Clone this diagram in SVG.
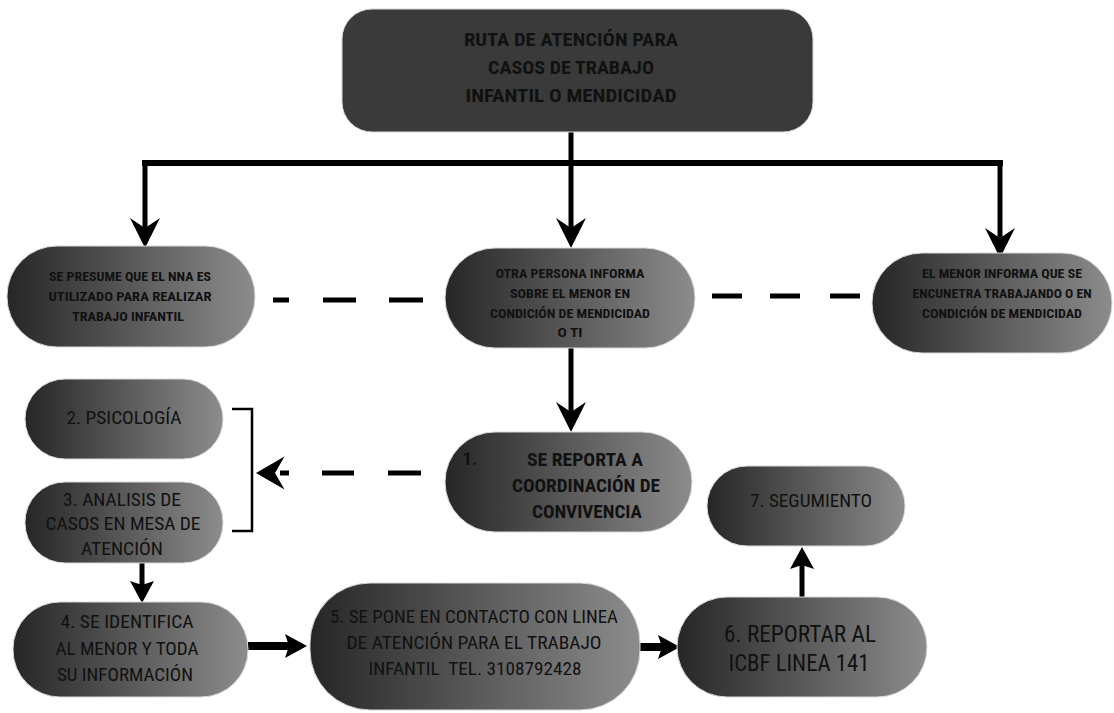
<svg xmlns="http://www.w3.org/2000/svg" width="1114" height="713" viewBox="0 0 1114 713">
<style>
.n{fill:url(#g);stroke:#d8d8d8;stroke-width:1}
.t{font-family:"Liberation Sans Narrow","Roboto Condensed","Liberation Sans",Arial,sans-serif;fill:#111;text-anchor:middle}
.b{font-weight:bold}
.s13{font-size:13px}
.s18{font-size:18px}
.s23{font-size:23px}
.ln{stroke:#000;fill:none}
.ah{fill:#000}
</style>
<defs>
<linearGradient id="g" x1="0" y1="0" x2="1" y2="0">
<stop offset="0" stop-color="#262626"/>
<stop offset="1" stop-color="#8c8c8c"/>
</linearGradient>
<path id="barb" d="M0,0 L-30,-15 L-20,0 L-30,15 Z"/>
<path id="tri" d="M0,0 L-22,-12 L-18,0 L-22,12 Z"/>
</defs>
<rect width="1114" height="713" fill="#fff"/>

<g id="connectors">
<path class="ln" stroke-width="5" d="M571,132 V166"/>
<path class="ln" stroke-width="6" d="M142,163 H1003"/>
<path class="ln" stroke-width="5" d="M145,163 V232"/>
<path class="ln" stroke-width="5" d="M571,163 V232"/>
<path class="ln" stroke-width="5" d="M1000,163 V240"/>
<use href="#barb" class="ah" transform="translate(145,248) rotate(90)"/>
<use href="#barb" class="ah" transform="translate(571,248) rotate(90)"/>
<use href="#barb" class="ah" transform="translate(1000,258) rotate(90)"/>
<path class="ln" stroke-width="5" d="M273,300 H289 M323,300 H356 M389,300 H423"/>
<path class="ln" stroke-width="5" d="M712,296 H742 M770,296 H800 M830,296 H860"/>
<path class="ln" stroke-width="5" d="M571,348 V416"/>
<use href="#barb" class="ah" transform="translate(571,432) rotate(90)"/>
<path class="ln" stroke-width="2.5" d="M232,409 H252 V531 H232"/>
<use href="#barb" class="ah" transform="translate(256,473) rotate(180) scale(0.95,1.1)"/>
<path class="ln" stroke-width="5" d="M280,473 H289 M322,473 H354 M388,473 H421"/>
<path class="ln" stroke-width="5" d="M142,563 V590"/>
<use href="#tri" class="ah" transform="translate(142,603) rotate(90)"/>
<path class="ln" stroke-width="8" d="M248,646 H292"/>
<use href="#tri" class="ah" transform="translate(307,646)"/>
<path class="ln" stroke-width="8" d="M640,647 H665"/>
<use href="#tri" class="ah" transform="translate(680,647)"/>
<path class="ln" stroke-width="5" d="M802,597 V562"/>
<use href="#tri" class="ah" transform="translate(802,547) rotate(-90)"/>
</g>

<g id="n_top">
<rect x="342" y="9" width="471" height="123" rx="30" fill="#3a3a3a" stroke="#d8d8d8" stroke-width="1"/>
<text class="t b s18" x="571" y="46" textLength="214" lengthAdjust="spacingAndGlyphs">RUTA DE ATENCIÓN PARA</text>
<text class="t b s18" x="571" y="74" textLength="166" lengthAdjust="spacingAndGlyphs">CASOS DE TRABAJO</text>
<text class="t b s18" x="571" y="102" textLength="211" lengthAdjust="spacingAndGlyphs">INFANTIL O MENDICIDAD</text>
</g>

<g id="n_presume">
<rect class="n" x="7" y="246" width="248" height="101" rx="50"/>
<text class="t b s13" x="130" y="281" textLength="162" lengthAdjust="spacingAndGlyphs">SE PRESUME QUE EL NNA ES</text>
<text class="t b s13" x="130" y="301" textLength="163" lengthAdjust="spacingAndGlyphs">UTILIZADO PARA REALIZAR</text>
<text class="t b s13" x="128" y="321" textLength="112" lengthAdjust="spacingAndGlyphs">TRABAJO INFANTIL</text>
</g>

<g id="n_otra">
<rect class="n" x="445" y="248" width="250" height="100" rx="50"/>
<text class="t b s13" x="570" y="278" textLength="149" lengthAdjust="spacingAndGlyphs">OTRA PERSONA INFORMA</text>
<text class="t b s13" x="570" y="298" textLength="120" lengthAdjust="spacingAndGlyphs">SOBRE EL MENOR EN</text>
<text class="t b s13" x="570" y="318" textLength="160" lengthAdjust="spacingAndGlyphs">CONDICIÓN DE MENDICIDAD</text>
<text class="t b s13" x="570" y="337" textLength="25" lengthAdjust="spacingAndGlyphs">O TI</text>
</g>

<g id="n_menor">
<rect class="n" x="872" y="253" width="240" height="100" rx="50"/>
<text class="t b s13" x="1002" y="278" textLength="160" lengthAdjust="spacingAndGlyphs">EL MENOR INFORMA QUE SE</text>
<text class="t b s13" x="1002" y="298" textLength="179" lengthAdjust="spacingAndGlyphs">ENCUNETRA TRABAJANDO O EN</text>
<text class="t b s13" x="1002" y="318" textLength="160" lengthAdjust="spacingAndGlyphs">CONDICIÓN DE MENDICIDAD</text>
</g>

<g id="n_psicologia">
<rect class="n" x="25" y="379" width="198" height="80" rx="40"/>
<text class="t s18" x="124" y="424" textLength="115" lengthAdjust="spacingAndGlyphs">2. PSICOLOGÍA</text>
</g>

<g id="n_analisis">
<rect class="n" x="25" y="482" width="198" height="81" rx="40"/>
<text class="t s18" x="122" y="506" textLength="118" lengthAdjust="spacingAndGlyphs">3. ANALISIS DE</text>
<text class="t s18" x="123" y="530" textLength="155" lengthAdjust="spacingAndGlyphs">CASOS EN MESA DE</text>
<text class="t s18" x="122" y="555" textLength="82" lengthAdjust="spacingAndGlyphs">ATENCIÓN</text>
</g>

<g id="n_reporta">
<rect class="n" x="445" y="432" width="247" height="100" rx="50"/>
<text class="t b s18" x="470" y="465">1.</text>
<text class="t b s18" x="585" y="466" textLength="116" lengthAdjust="spacingAndGlyphs">SE REPORTA A</text>
<text class="t b s18" x="586" y="492" textLength="148" lengthAdjust="spacingAndGlyphs">COORDINACIÓN DE</text>
<text class="t b s18" x="587" y="518" textLength="110" lengthAdjust="spacingAndGlyphs">CONVIVENCIA</text>
</g>

<g id="n_seguimiento">
<rect class="n" x="707" y="466" width="198" height="80" rx="40"/>
<text class="t s18" x="811" y="507" textLength="122" lengthAdjust="spacingAndGlyphs">7. SEGUMIENTO</text>
</g>

<g id="n_identifica">
<rect class="n" x="13" y="602" width="235" height="95" rx="47"/>
<text class="t s18" x="127" y="628" textLength="133" lengthAdjust="spacingAndGlyphs">4. SE IDENTIFICA</text>
<text class="t s18" x="127" y="655" textLength="143" lengthAdjust="spacingAndGlyphs">AL MENOR Y TODA</text>
<text class="t s18" x="125" y="681" textLength="136" lengthAdjust="spacingAndGlyphs">SU INFORMACIÓN</text>
</g>

<g id="n_contacto">
<rect class="n" x="310" y="583" width="330" height="127" rx="60"/>
<text class="t s18" x="474" y="623" textLength="288" lengthAdjust="spacingAndGlyphs">5. SE PONE EN CONTACTO CON LINEA</text>
<text class="t s18" x="474" y="649" textLength="255" lengthAdjust="spacingAndGlyphs">DE ATENCIÓN PARA EL TRABAJO</text>
<text class="t s18" x="475" y="675" textLength="213" lengthAdjust="spacingAndGlyphs">INFANTIL&#160; TEL. 3108792428</text>
</g>

<g id="n_icbf">
<rect class="n" x="677" y="597" width="250" height="100" rx="50"/>
<text class="t s23" x="800" y="642" textLength="152" lengthAdjust="spacingAndGlyphs">6. REPORTAR AL</text>
<text class="t s23" x="799" y="671" textLength="141" lengthAdjust="spacingAndGlyphs">ICBF LINEA 141</text>
</g>
</svg>
